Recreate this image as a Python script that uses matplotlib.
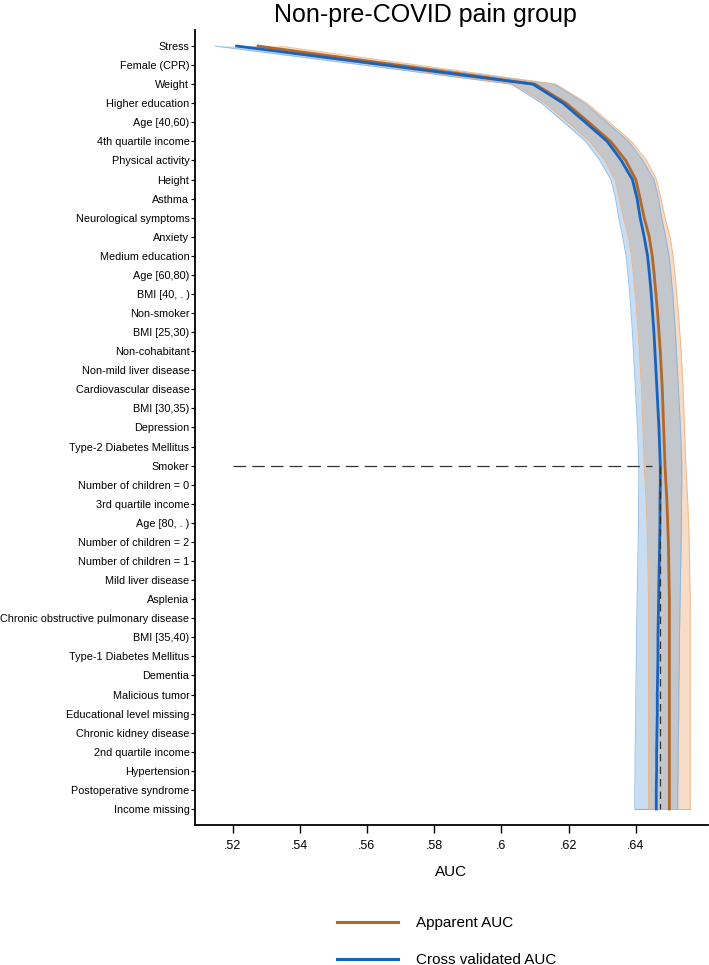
import matplotlib.pyplot as plt
import numpy as np
from matplotlib.lines import Line2D

plt.rcParams['font.family'] = ['Liberation Sans', 'DejaVu Sans']

# predictors in order of entry
labels = ["Stress", "Female (CPR)", "Weight", "Higher education", "Age [40,60)",
          "4th quartile income", "Physical activity", "Height", "Asthma",
          "Neurological symptoms", "Anxiety", "Medium education", "Age [60,80)",
          "BMI [40, . )", "Non-smoker", "BMI [25,30)", "Non-cohabitant",
          "Non-mild liver disease", "Cardiovascular disease", "BMI [30,35)",
          "Depression", "Type-2 Diabetes Mellitus", "Smoker", "Number of children = 0",
          "3rd quartile income", "Age [80, . )", "Number of children = 2",
          "Number of children = 1", "Mild liver disease", "Asplenia",
          "Chronic obstructive pulmonary disease", "BMI [35,40)",
          "Type-1 Diabetes Mellitus", "Dementia", "Malicious tumor",
          "Educational level missing", "Chronic kidney disease", "2nd quartile income",
          "Hypertension", "Postoperative syndrome", "Income missing"]

apparent_auc = [0.5276, 0.5690, 0.6100, 0.6193, 0.6260, 0.6325, 0.6370, 0.6400,
                0.6413, 0.6425, 0.6440, 0.6449, 0.6455, 0.6460, 0.6465, 0.6469,
                0.6473, 0.6476, 0.6479, 0.6481, 0.6483, 0.6485, 0.6487, 0.6490,
                0.6493, 0.6495, 0.6497, 0.6498, 0.6499, 0.6500, 0.6500, 0.6500,
                0.6500, 0.6500, 0.6500, 0.6500, 0.6500, 0.6500, 0.6500, 0.6500,
                0.6500]
cv_auc = [0.5212, 0.5655, 0.6094, 0.6184, 0.6250, 0.6315, 0.6357, 0.6390,
          0.6404, 0.6413, 0.6425, 0.6435, 0.6441, 0.6446, 0.6450, 0.6454,
          0.6457, 0.6460, 0.6463, 0.6466, 0.6469, 0.6471, 0.6473, 0.6473,
          0.6472, 0.6472, 0.6471, 0.6470, 0.6469, 0.6468, 0.6467, 0.6466,
          0.6466, 0.6465, 0.6464, 0.6464, 0.6463, 0.6462, 0.6462, 0.6461,
          0.6461]
# half widths of the confidence bands
apparent_hw = [0.0062, 0.0062, 0.0062, 0.0062, 0.0062, 0.0062, 0.0062, 0.0062,
               0.0062, 0.0062, 0.0062, 0.0062, 0.0062, 0.0062, 0.0062, 0.0062,
               0.0062, 0.0062, 0.0062, 0.0062, 0.0062, 0.0062, 0.0062, 0.0062,
               0.0062, 0.0062, 0.0062, 0.0062, 0.0062, 0.0062, 0.0062, 0.0062,
               0.0062, 0.0062, 0.0062, 0.0062, 0.0062, 0.0062, 0.0062, 0.0062,
               0.0062]
cv_hw = [0.0064, 0.0064, 0.0064, 0.0064, 0.0064, 0.0064, 0.0064, 0.0064,
         0.0064, 0.0064, 0.0064, 0.0064, 0.0064, 0.0064, 0.0064, 0.0064,
         0.0064, 0.0064, 0.0064, 0.0064, 0.0064, 0.0064, 0.0064, 0.0064,
         0.0064, 0.0064, 0.0064, 0.0064, 0.0064, 0.0064, 0.0064, 0.0064,
         0.0064, 0.0064, 0.0064, 0.0064, 0.0064, 0.0064, 0.0064, 0.0064,
         0.0064]
cutoff_label = "Smoker"
xticks = [0.52, 0.54, 0.56, 0.58, 0.60, 0.62, 0.64]
xticklabels = [".52", ".54", ".56", ".58", ".6", ".62", ".64"]

y = np.arange(len(labels))
app = np.array(apparent_auc)
cv = np.array(cv_auc)
app_lo, app_hi = app - np.array(apparent_hw), app + np.array(apparent_hw)
cv_lo, cv_hi = cv - np.array(cv_hw), cv + np.array(cv_hw)

c_app = '#b0692a'
c_cv = '#1763bd'

fig = plt.figure(figsize=(7.09, 9.65), dpi=100)
ax = fig.add_axes([0.275, 0.1451, 0.7236, 0.8238])

ax.fill_betweenx(y, cv_lo, cv_hi, color='#c9ddf2', lw=0, zorder=1)
ax.fill_betweenx(y, app_lo, app_hi, color='#f6dcc6', lw=0, zorder=1)
ax.fill_betweenx(y, np.maximum(cv_lo, app_lo), np.minimum(cv_hi, app_hi),
                 color='#c3c6cb', lw=0, zorder=2)
for arr in (cv_lo, cv_hi):
    ax.plot(arr, y, color='#7fb0e2', lw=0.7, alpha=0.8, zorder=3)
for arr in (app_lo, app_hi):
    ax.plot(arr, y, color='#eeae78', lw=0.7, alpha=0.8, zorder=3)
ax.plot([cv_lo[-1], cv_hi[-1]], [y[-1], y[-1]], color='#7fb0e2', lw=0.7, zorder=3)
ax.plot([app_lo[-1], app_hi[-1]], [y[-1], y[-1]], color='#eeae78', lw=0.7, zorder=3)

ax.plot(app, y, color=c_app, lw=2.0, zorder=4)
ax.plot(cv, y, color=c_cv, lw=2.0, zorder=5)

# cut-off markers
k = labels.index(cutoff_label)
ax.hlines(y[k], 0.52, cv_lo[k] + 0.0038, colors='#333333', lw=0.9,
          linestyles=(0, (10, 5)), zorder=6)
ax.vlines(cv.max(), y[k], y[-1], colors='#333333', lw=0.9,
          linestyles=(0, (6, 4)), zorder=6)

ax.set_ylim(len(labels) - 1 + 0.84, -0.84)
ax.set_xlim(0.5088, 0.6615)
ax.set_yticks(y)
ax.set_yticklabels(labels, fontsize=7.8)
ax.set_xticks(xticks)
ax.set_xticklabels(xticklabels, fontsize=9)
ax.tick_params(axis='y', length=3, width=0.8, pad=1)
ax.tick_params(axis='x', length=6, width=1.0, pad=5)
ax.spines['top'].set_visible(False)
ax.spines['right'].set_visible(False)
ax.spines['left'].set_linewidth(1.3)
ax.spines['bottom'].set_linewidth(1.3)
ax.set_xlabel("AUC", fontsize=11, labelpad=9)

fig.text(0.6, 0.9845, "Non-pre-COVID pain group", fontsize=18,
         ha='center', va='center')

handles = [Line2D([], [], color=c_app, lw=2.2), Line2D([], [], color=c_cv, lw=2.2)]
fig.legend(handles, ["Apparent AUC", "Cross validated AUC"], loc='upper left',
           bbox_to_anchor=(0.456, 0.065), frameon=False, fontsize=11,
           handlelength=4.0, handletextpad=1.2, labelspacing=1.5)

fig.savefig("out.png", dpi=100)
